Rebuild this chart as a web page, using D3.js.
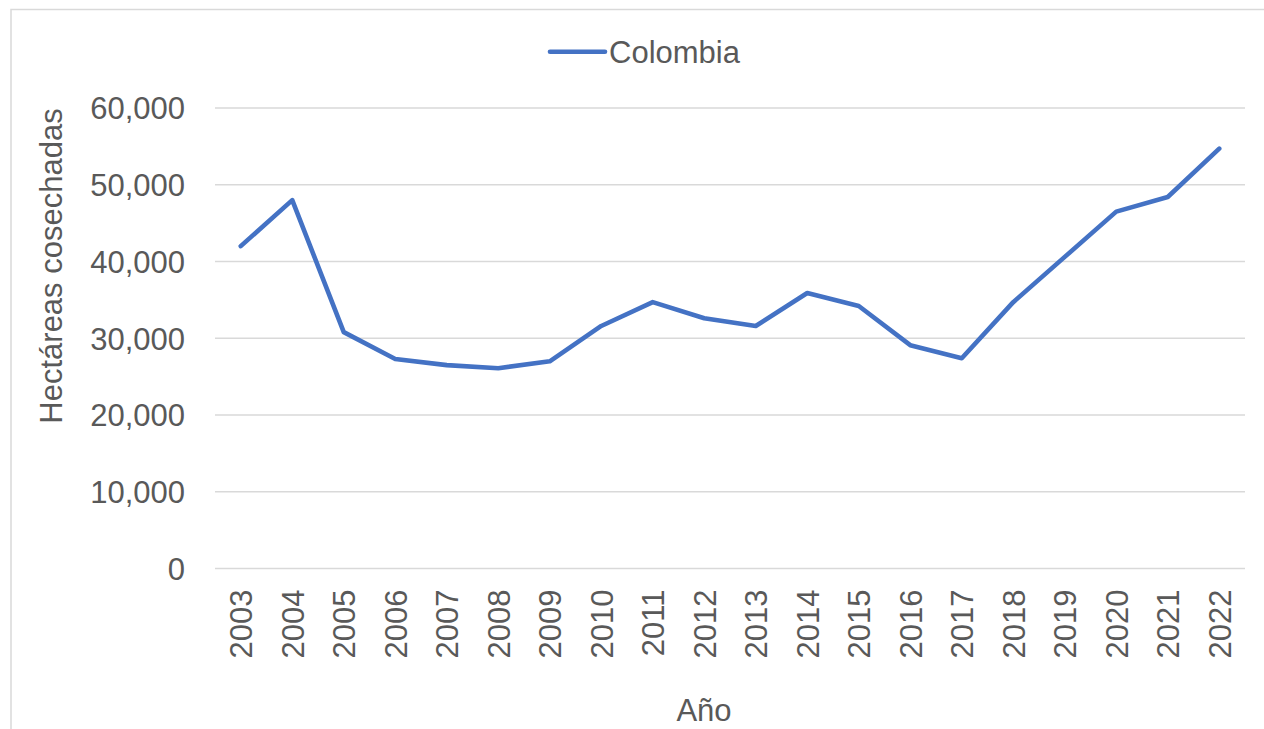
<!DOCTYPE html>
<html>
<head>
<meta charset="utf-8">
<script src="https://cdn.jsdelivr.net/npm/d3@7"></script>
<style>
  html, body { margin: 0; padding: 0; background: #fff; }
  svg { display: block; }
  text { font-family: "Liberation Sans", Arial, sans-serif; fill: #595959; }
</style>
</head>
<body>
<svg id="chart" width="1264" height="729"></svg>
<script>
// Hectáreas cosechadas en Colombia por año
const years = ["2003","2004","2005","2006","2007","2008","2009","2010","2011","2012",
               "2013","2014","2015","2016","2017","2018","2019","2020","2021","2022"];
const colombia = [42000, 48000, 30800, 27300, 26500, 26100, 27000, 31600, 34700, 32600,
                  31600, 35900, 34200, 29100, 27400, 34700, 40600, 46500, 48400, 54700];
const yTicks = [0, 10000, 20000, 30000, 40000, 50000, 60000];
const seriesName = "Colombia";
const xTitle = "Año";
const yTitle = "Hectáreas cosechadas";

const svg = d3.select("#chart");
const W = 1264, H = 729;
const plot = { left: 215, right: 1245, top: 108, bottom: 568.5 };
const lineColor = "#4472C4";
const fontSize = 31;

// chart frame
svg.append("rect")
  .attr("x", 11).attr("y", 9.5)
  .attr("width", W + 20).attr("height", H + 20)
  .attr("fill", "none").attr("stroke", "#d9d9d9").attr("stroke-width", 1.5);

const x = d3.scalePoint().domain(years).range([plot.left, plot.right]).padding(0.5);
const y = d3.scaleLinear().domain([0, 60000]).range([plot.bottom, plot.top]);

// horizontal gridlines
svg.append("g").selectAll("line").data(yTicks).join("line")
  .attr("x1", plot.left).attr("x2", plot.right)
  .attr("y1", d => y(d)).attr("y2", d => y(d))
  .attr("stroke", "#d9d9d9").attr("stroke-width", 1.4);

// y axis labels
const fmt = d3.format(",");
const yAxis = svg.append("g")
  .attr("transform", `translate(${plot.left - 30},0)`)
  .call(d3.axisLeft(y).tickValues(yTicks).tickFormat(fmt).tickSize(0).tickPadding(0));
yAxis.select(".domain").remove();
yAxis.selectAll("text")
  .attr("font-size", fontSize)
  .attr("font-family", "Liberation Sans, Arial, sans-serif")
  .attr("fill", "#595959")
  .attr("text-anchor", "end")
  .attr("dy", "0.35em")
  .attr("x", 0);

// x axis labels (vertical)
const xAxis = svg.append("g")
  .attr("transform", `translate(0,${plot.bottom})`)
  .call(d3.axisBottom(x).tickSize(0).tickPadding(0));
xAxis.select(".domain").remove();
xAxis.selectAll("text")
  .attr("font-size", fontSize)
  .attr("font-family", "Liberation Sans, Arial, sans-serif")
  .attr("fill", "#595959")
  .attr("text-anchor", "end")
  .attr("transform", "translate(0,21) rotate(-90)")
  .attr("x", 0).attr("y", 0)
  .attr("dy", "0.35em");

// data line
const line = d3.line()
  .x((d, i) => x(years[i]))
  .y(d => y(d));
svg.append("path")
  .datum(colombia)
  .attr("d", line)
  .attr("fill", "none")
  .attr("stroke", lineColor)
  .attr("stroke-width", 4.6)
  .attr("stroke-linejoin", "round")
  .attr("stroke-linecap", "round");

// legend
const legend = svg.append("g");
legend.append("line")
  .attr("x1", 550).attr("x2", 605).attr("y1", 51.7).attr("y2", 51.7)
  .attr("stroke", lineColor).attr("stroke-width", 4.6).attr("stroke-linecap", "round");
legend.append("text")
  .attr("x", 609).attr("y", 51.7).attr("dy", "0.35em")
  .attr("font-size", fontSize)
  .text(seriesName);

// axis titles
svg.append("text")
  .attr("transform", "translate(62,266) rotate(-90)")
  .attr("text-anchor", "middle")
  .attr("font-size", fontSize)
  .text(yTitle);

svg.append("text")
  .attr("x", 704).attr("y", 721)
  .attr("text-anchor", "middle")
  .attr("font-size", fontSize)
  .text(xTitle);
</script>
</body>
</html>
